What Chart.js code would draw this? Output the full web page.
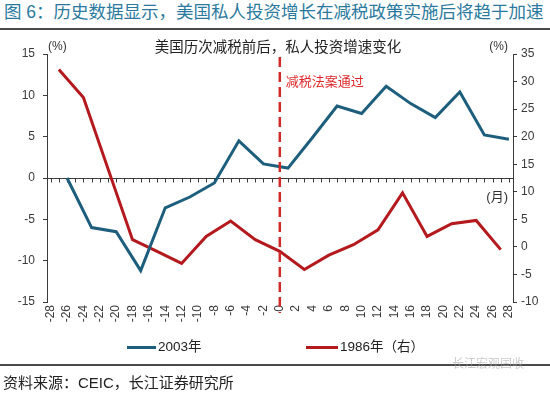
<!DOCTYPE html>
<html>
<head>
<meta charset="utf-8">
<script src="https://cdn.jsdelivr.net/npm/chart.js@4.4.0/dist/chart.umd.min.js"></script>
<style>
body { margin: 0; background: #fff; }
#wrap { position: relative; width: 550px; height: 393px; overflow: hidden; font-family: "Liberation Sans", "Noto Sans CJK SC", sans-serif; color: #222; }
#myChart { position: absolute; left: 0; top: 0; }
.txt { position: absolute; white-space: nowrap; line-height: 1; }
.rule { position: absolute; left: 0; width: 550px; height: 2px; background: #4a4a4a; }
.key { position: absolute; height: 3px; }
</style>
</head>
<body>
<div id="wrap">
  <div class="txt" style="left:4px; top:4px; font-size:17.5px; color:#2b7a9e;">图 6：历史数据显示，美国私人投资增长在减税政策实施后将趋于加速</div>
  <div class="rule" style="top:28px"></div>
  <canvas id="myChart" width="550" height="393"></canvas>
  <div class="txt" style="left:0; width:556px; text-align:center; top:40px; font-size:14.5px; color:#222;">美国历次减税前后，私人投资增速变化</div>
  <div class="key" style="left:127px; width:29px; top:346px; background:#1d5e7d;"></div>
  <div class="txt" style="left:158px; top:340px; font-size:13.5px;">2003年</div>
  <div class="key" style="left:306px; width:32px; top:346px; background:#b4191e;"></div>
  <div class="txt" style="left:340px; top:340px; font-size:13.5px;">1986年（右）</div>
  <div class="rule" style="top:364px"></div>
  <div class="txt" style="left:452px; top:358px; font-size:12px; color:rgba(160,160,160,0.55);">长江宏观固收</div>
  <div class="txt" style="left:3px; top:375px; font-size:15px; color:#222;">资料来源：CEIC，长江证券研究所</div>
</div>
<script>
// months relative to the tax cut, and growth (%)
const months2003 = [-26, -23, -20, -17, -14, -11, -8, -5, -2, 1, 4, 7, 10, 13, 16, 19, 22, 25, 28];
const values2003 = [0, -6.0, -6.5, -11.2, -3.6, -2.3, -0.6, 4.5, 1.7, 1.2, 4.9, 8.7, 7.8, 11.1, 9.0, 7.3, 10.4, 5.2, 4.7];

const months1986 = [-27, -24, -21, -18, -15, -12, -9, -6, -3, 0, 3, 6, 9, 12, 15, 18, 21, 24, 27];
const values1986 = [32.2, 27.1, 14.2, 1.3, -0.8, -3.0, 1.9, 4.7, 1.3, -0.8, -4.1, -1.5, 0.4, 3.1, 9.8, 1.9, 4.2, 4.8, -0.5];

const xTickLabels = [-28, -26, -24, -22, -20, -18, -16, -14, -12, -10, -8, -6, -4, -2, 0, 2, 4, 6, 8, 10, 12, 14, 16, 18, 20, 22, 24, 26, 28];

const labelFont = { family: '"Liberation Sans", "Noto Sans CJK SC", sans-serif', size: 12 };
const axisColor = '#3a3a3a';

// zero line with monthly ticks, the tax-cut marker and small labels
const axisExtras = {
  id: 'axisExtras',
  beforeDatasetsDraw(chart) {
    const { ctx, chartArea, scales } = chart;
    const y0 = Math.round(scales.y.getPixelForValue(0)) + 0.5;
    ctx.save();
    ctx.strokeStyle = axisColor;
    ctx.lineWidth = 1;
    ctx.beginPath();
    ctx.moveTo(chartArea.left, y0);
    ctx.lineTo(chartArea.right, y0);
    for (let m = xTickLabels[0]; m <= xTickLabels[xTickLabels.length - 1]; m++) {
      const x = Math.round(scales.x.getPixelForValue(m)) + 0.5;
      ctx.moveTo(x, y0);
      ctx.lineTo(x, y0 + 4);
    }
    ctx.stroke();

    ctx.fillStyle = '#333';
    ctx.textBaseline = 'middle';
    ctx.font = '13px "Liberation Sans", "Noto Sans CJK SC"';
    ctx.textAlign = 'right';
    ctx.fillText('(月)', chartArea.right - 5, y0 + 19);
    ctx.font = '12px "Liberation Sans"';
    ctx.textAlign = 'left';
    ctx.fillText('(%)', chartArea.left + 1, chartArea.top - 7);
    ctx.textAlign = 'right';
    ctx.fillText('(%)', chartArea.right - 5, chartArea.top - 7);
    ctx.restore();
  },
  afterDraw(chart) {
    const { ctx, chartArea, scales } = chart;
    const x0 = scales.x.getPixelForValue(0);
    ctx.save();
    ctx.strokeStyle = '#d02a2a';
    ctx.lineWidth = 2.5;
    ctx.setLineDash([10, 5]);
    ctx.beginPath();
    ctx.moveTo(x0, chartArea.top + 3);
    ctx.lineTo(x0, chartArea.bottom + 11);
    ctx.stroke();
    ctx.fillStyle = '#e0282a';
    ctx.font = '13px "Noto Sans CJK SC"';
    ctx.textBaseline = 'middle';
    ctx.textAlign = 'left';
    ctx.fillText('减税法案通过', x0 + 6, scales.y1.getPixelForValue(30));
    ctx.restore();
  }
};

const ctx = document.getElementById('myChart').getContext('2d');

const config = {
  type: 'line',
  data: {
    datasets: [
      {
        label: '2003年',
        data: months2003.map((m, i) => ({ x: m, y: values2003[i] })),
        borderColor: '#1d5e7d',
        borderWidth: 3,
        pointRadius: 0,
        yAxisID: 'y'
      },
      {
        label: '1986年（右）',
        data: months1986.map((m, i) => ({ x: m, y: values1986[i] })),
        borderColor: '#b4191e',
        borderWidth: 3,
        pointRadius: 0,
        yAxisID: 'y1'
      }
    ]
  },
  options: {
    responsive: false,
    animation: false,
    layout: { padding: { top: 54, bottom: 61, left: 0, right: 0 } },
    plugins: {
      legend: { display: false },
      tooltip: { enabled: false }
    },
    scales: {
      x: {
        type: 'linear',
        min: -28.45,
        max: 28.5,
        border: { display: false },
        grid: { display: false, drawTicks: false },
        ticks: { autoSkip: false, minRotation: 90, maxRotation: 90, padding: 3, color: axisColor, font: labelFont },
        afterBuildTicks: (s) => { s.ticks = xTickLabels.map(v => ({ value: v })); },
        afterFit: (s) => { s.height = 30; }
      },
      y: {
        position: 'left',
        min: -15,
        max: 15,
        ticks: { stepSize: 5, padding: 8, color: axisColor, font: labelFont },
        grid: { drawOnChartArea: false, tickLength: 4, color: axisColor },
        border: { color: axisColor },
        afterFit: (s) => { s.width = 47; }
      },
      y1: {
        position: 'right',
        min: -10,
        max: 35,
        ticks: { stepSize: 5, padding: 4, color: axisColor, font: labelFont },
        grid: { drawOnChartArea: false, tickLength: 4, color: axisColor },
        border: { color: axisColor },
        afterFit: (s) => { s.width = 37; }
      }
    }
  },
  plugins: [axisExtras]
};

const myChart = new Chart(ctx, config);
</script>
</body>
</html>
